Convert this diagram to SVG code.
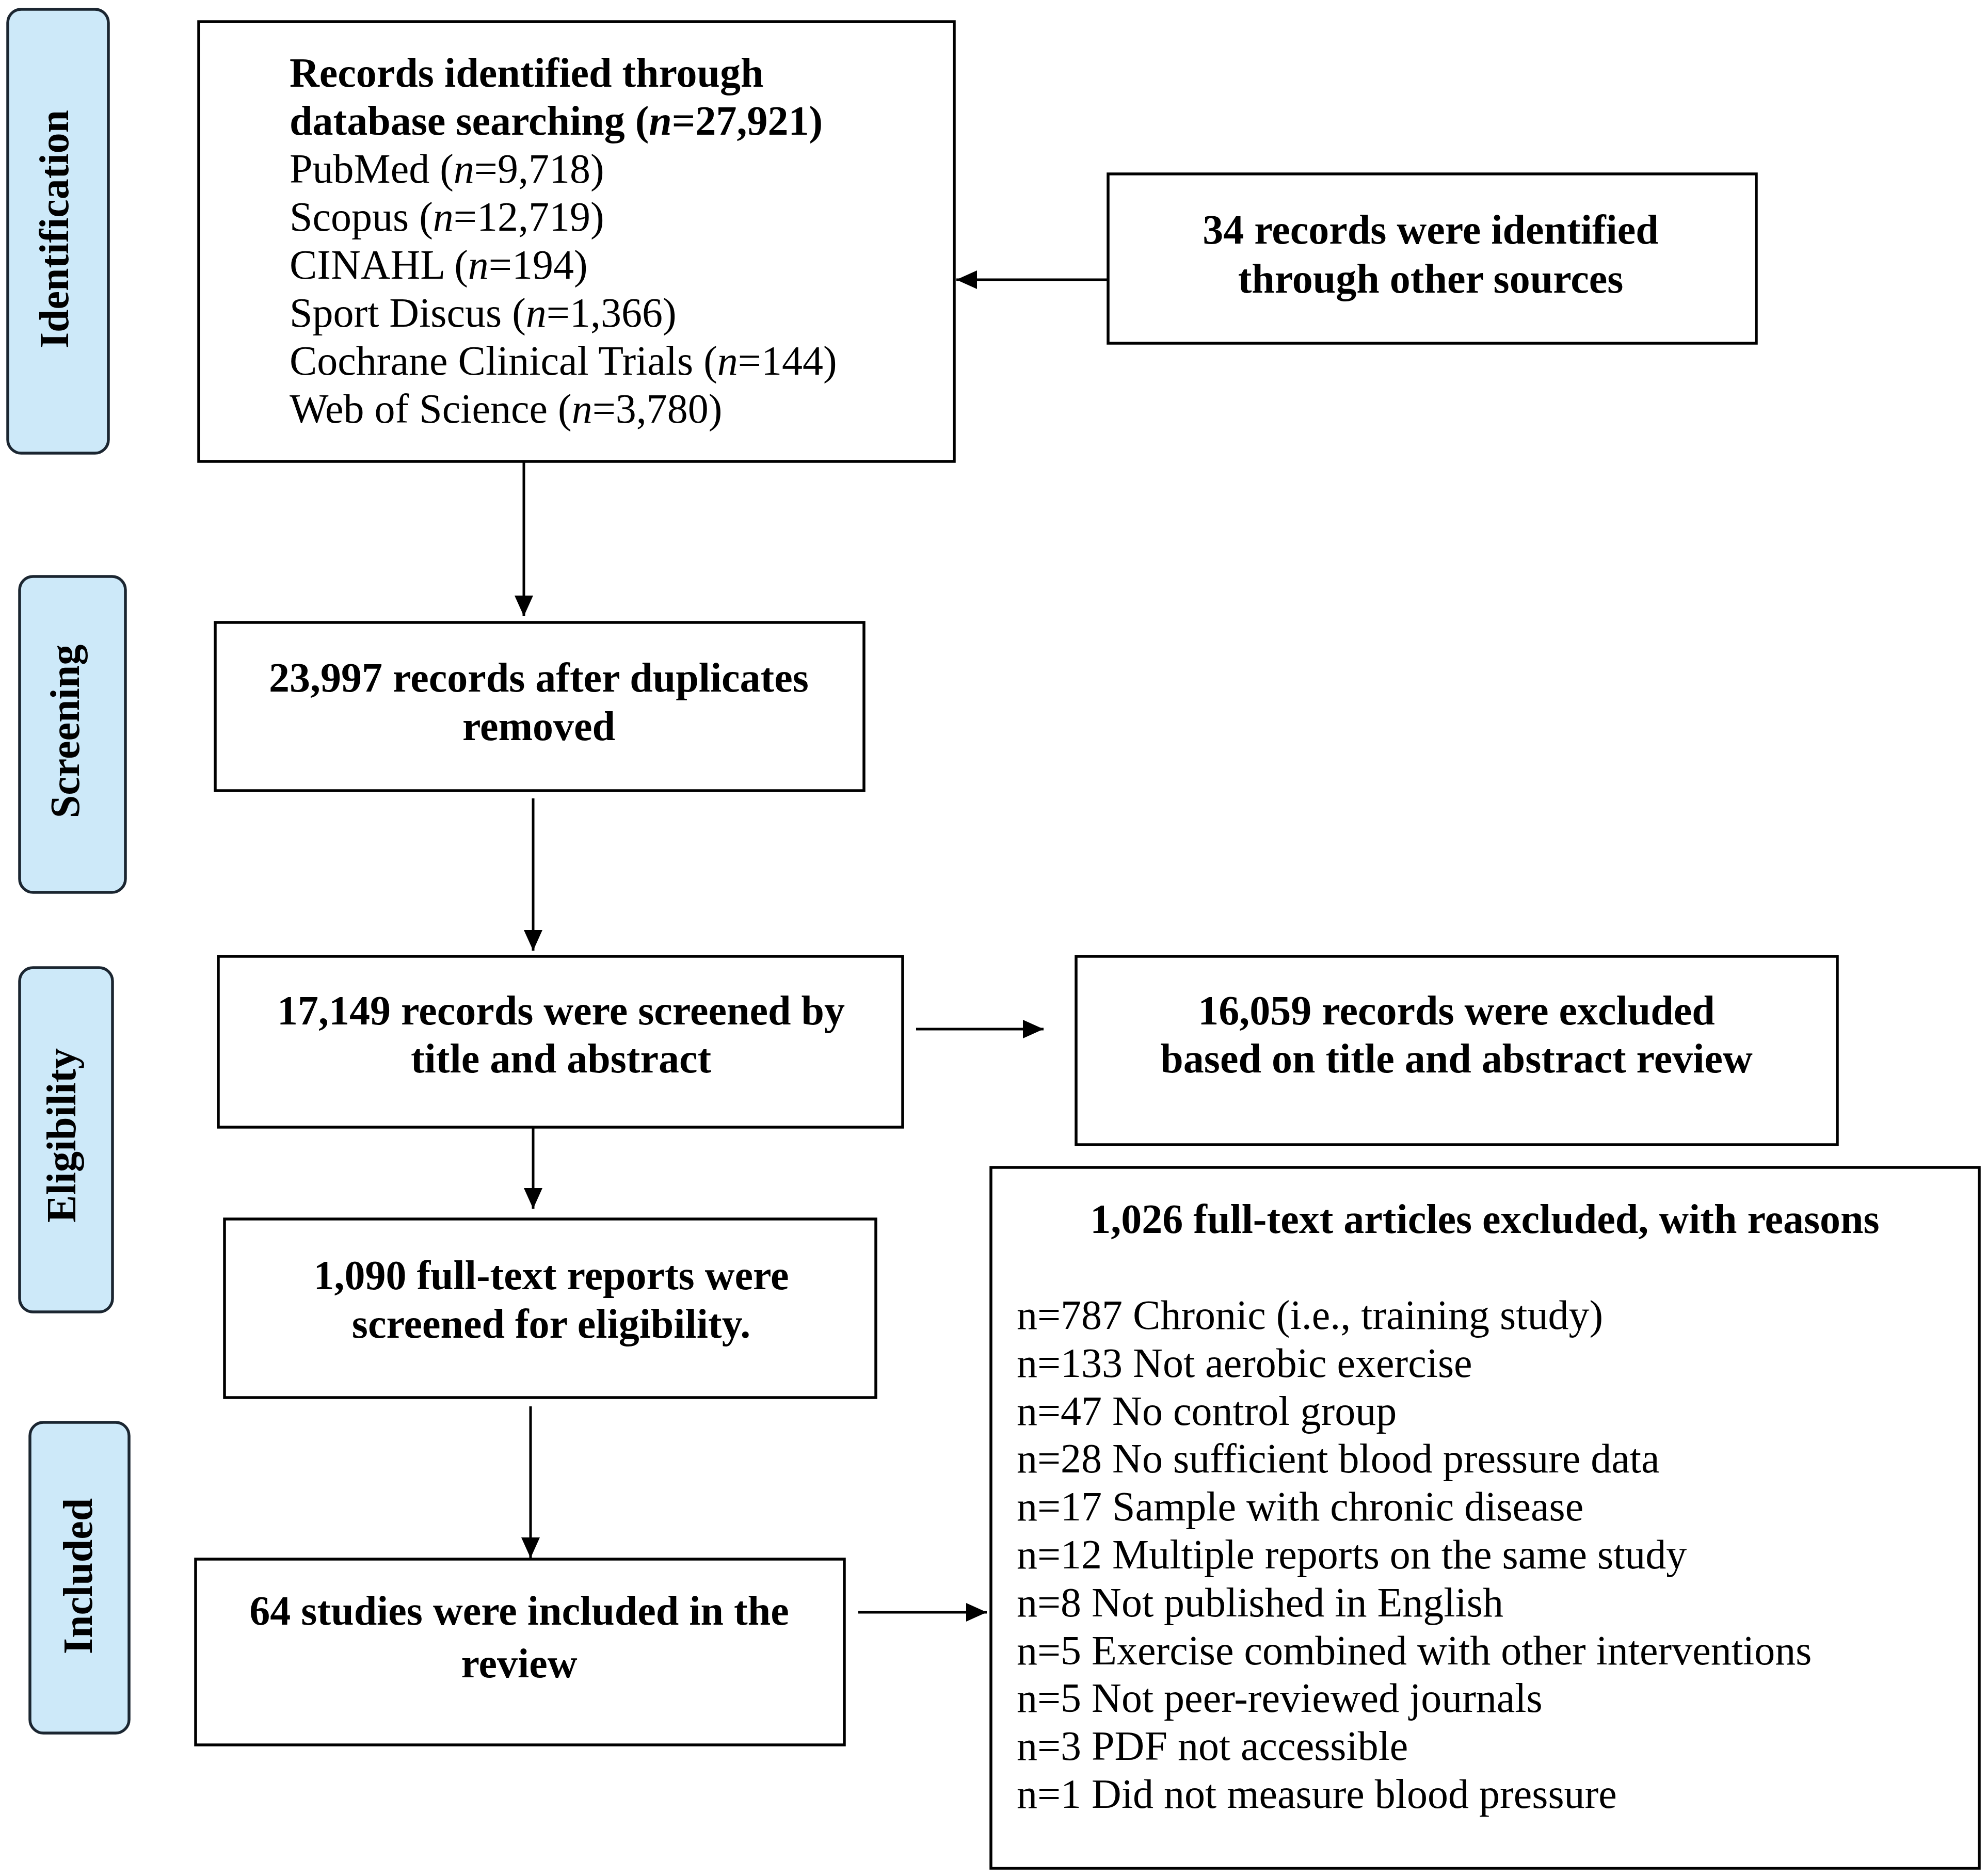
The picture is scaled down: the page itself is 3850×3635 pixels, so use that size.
<svg xmlns="http://www.w3.org/2000/svg" width="3850" height="3635" viewBox="0 0 3850 3635">
<style>
.bg{fill:#ffffff}
.box{fill:#ffffff;stroke:#000000;stroke-width:5.5}
.lab{fill:#cde9f9;stroke:#1b2631;stroke-width:5.5}
text{font-family:"Liberation Serif","Times New Roman",serif;font-size:80px;fill:#000000}
.b{font-weight:bold}
.c{text-anchor:middle}
.i{font-style:italic}
.con{stroke:#000000;stroke-width:5;fill:none;marker-end:url(#ah)}
</style>
<defs>
<marker id="ah" markerUnits="userSpaceOnUse" markerWidth="44" markerHeight="40" refX="40" refY="18" orient="auto">
<path d="M0,0 L40,18 L0,36 Z" fill="#000000"/>
</marker>
</defs>
<rect class="bg" x="0" y="0" width="3850" height="3635"/>

<g id="label-identification">
<rect class="lab" x="15" y="18" width="195" height="860" rx="26"/>
<text class="b c" transform="translate(132,444) rotate(-90)">Identification</text>
</g>
<g id="label-screening">
<rect class="lab" x="38" y="1117" width="205" height="612" rx="26"/>
<text class="b c" transform="translate(153,1417) rotate(-90)">Screening</text>
</g>
<g id="label-eligibility">
<rect class="lab" x="38" y="1875" width="180" height="667" rx="26"/>
<text class="b c" transform="translate(146,2200) rotate(-90)">Eligibility</text>
</g>
<g id="label-included">
<rect class="lab" x="58" y="2756" width="192" height="602" rx="26"/>
<text class="b c" transform="translate(178,3054) rotate(-90)">Included</text>
</g>

<g id="node-database">
<rect class="box" x="385" y="42" width="1464" height="852"/>
<text class="b" x="561" y="168">Records identified through</text>
<text class="b" x="561" y="261">database searching (<tspan class="i">n</tspan>=27,921)</text>
<text x="561" y="354">PubMed (<tspan class="i">n</tspan>=9,718)</text>
<text x="561" y="447">Scopus (<tspan class="i">n</tspan>=12,719)</text>
<text x="561" y="540">CINAHL (<tspan class="i">n</tspan>=194)</text>
<text x="561" y="633">Sport Discus (<tspan class="i">n</tspan>=1,366)</text>
<text x="561" y="726">Cochrane Clinical Trials (<tspan class="i">n</tspan>=144)</text>
<text x="561" y="819">Web of Science (<tspan class="i">n</tspan>=3,780)</text>
</g>

<g id="node-other-sources">
<rect class="box" x="2147" y="337" width="1256" height="328"/>
<text class="b c" x="2772" y="472">34 records were identified</text>
<text class="b c" x="2772" y="567">through other sources</text>
</g>

<g id="node-duplicates">
<rect class="box" x="417" y="1206" width="1257" height="326"/>
<text class="b c" x="1044" y="1340">23,997 records after duplicates</text>
<text class="b c" x="1044" y="1434">removed</text>
</g>

<g id="node-screened">
<rect class="box" x="423" y="1853" width="1326" height="331"/>
<text class="b c" x="1087" y="1985">17,149 records were screened by</text>
<text class="b c" x="1087" y="2078">title and abstract</text>
</g>

<g id="node-excluded-title">
<rect class="box" x="2085" y="1853" width="1475" height="365"/>
<text class="b c" x="2822" y="1985">16,059 records were excluded</text>
<text class="b c" x="2822" y="2078">based on title and abstract review</text>
</g>

<g id="node-fulltext">
<rect class="box" x="435" y="2362" width="1262" height="346"/>
<text class="b c" x="1068" y="2498">1,090 full-text reports were</text>
<text class="b c" x="1068" y="2592">screened for eligibility.</text>
</g>

<g id="node-excluded-fulltext">
<rect class="box" x="1920" y="2262" width="1915" height="1358"/>
<text class="b c" x="2877" y="2389">1,026 full-text articles excluded, with reasons</text>
<text x="1970" y="2575">n=787 Chronic (i.e., training study)</text>
<text x="1970" y="2668">n=133 Not aerobic exercise</text>
<text x="1970" y="2761">n=47 No control group</text>
<text x="1970" y="2853">n=28 No sufficient blood pressure data</text>
<text x="1970" y="2946">n=17 Sample with chronic disease</text>
<text x="1970" y="3039">n=12 Multiple reports on the same study</text>
<text x="1970" y="3132">n=8 Not published in English</text>
<text x="1970" y="3225">n=5 Exercise combined with other interventions</text>
<text x="1970" y="3317">n=5 Not peer-reviewed journals</text>
<text x="1970" y="3410">n=3 PDF not accessible</text>
<text x="1970" y="3503">n=1 Did not measure blood pressure</text>
</g>

<g id="node-included">
<rect class="box" x="379" y="3021" width="1257" height="360"/>
<text class="b c" x="1006" y="3148">64 studies were included in the</text>
<text class="b c" x="1006" y="3250">review</text>
</g>

<g id="connectors">
<line class="con" x1="1015" y1="894" x2="1015" y2="1194"/>
<line class="con" x1="2147" y1="542" x2="1853" y2="542"/>
<line class="con" x1="1033" y1="1547" x2="1033" y2="1842"/>
<line class="con" x1="1033" y1="2184" x2="1033" y2="2342"/>
<line class="con" x1="1028" y1="2725" x2="1028" y2="3019"/>
<line class="con" x1="1775" y1="1994" x2="2022" y2="1994"/>
<line class="con" x1="1663" y1="3124" x2="1912" y2="3124"/>
</g>
</svg>
